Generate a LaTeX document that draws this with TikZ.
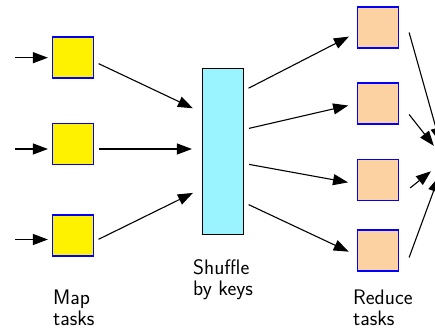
\documentclass[tikz,border=0pt]{standalone}
\usetikzlibrary{arrows.meta,positioning}
\definecolor{shufcyan}{RGB}{153,244,255}
\definecolor{redpeach}{RGB}{252,210,162}

\begin{document}
\begin{tikzpicture}[x=1pt,y=-1pt,
  >={Triangle[length=15pt,width=11pt]},
  task/.style={draw=blue,line width=1.2pt,minimum size=41pt,inner sep=0pt},
  maptask/.style={task,fill=yellow},
  redtask/.style={task,fill=redpeach},
  shufbox/.style={draw,line width=1.2pt,fill=shufcyan,minimum width=41pt,minimum height=166pt,inner sep=0pt},
  lbl/.style={anchor=north west,inner sep=0pt,align=left,font=\sffamily\fontsize{21}{21}\selectfont},
  flow/.style={->,line width=1.1pt}]
  \clip (0,0) rectangle (435,331);
  % map tasks and their inputs
  \node[maptask] (m1) at (73,57.5) {};
  \node[maptask] (m2) at (73,144) {};
  \node[maptask] (m3) at (73,235.5) {};
  \coordinate (in1) at (15,57.7);
  \coordinate (in2) at (15,149);
  \coordinate (in3) at (15,239.5);
  \foreach \i in {1,2,3}
    \draw[flow,shorten >=4pt] (in\i) -- (in\i -| m\i.west);
  % shuffle stage
  \node[shufbox] (shuf) at (223,151.5) {};
  \draw[flow,shorten <=5pt,shorten >=10pt] ([yshift=-4pt]m1.east) -- ([yshift=39pt]shuf.west);
  \draw[flow,shorten <=5pt,shorten >=10pt] (in2 -| m2.east) -- (in2 -| shuf.west);
  \draw[flow,shorten <=5pt,shorten >=10pt] ([yshift=-6pt]m3.east) -- ([yshift=-37pt]shuf.west);
  % reduce tasks
  \node[redtask] (r1) at (378,27.5) {};
  \node[redtask] (r2) at (378,103.5) {};
  \node[redtask] (r3) at (378,180) {};
  \node[redtask] (r4) at (378,250.5) {};
  \draw[flow,shorten <=5pt,shorten >=9pt] ([yshift=61pt]shuf.east) -- ([yshift=-5pt]r1.west);
  \draw[flow,shorten <=5pt,shorten >=9pt] ([yshift=22pt]shuf.east) -- (r2.west);
  \draw[flow,shorten <=5pt,shorten >=9pt] ([yshift=-12pt]shuf.east) -- ([yshift=-4pt]r3.west);
  \draw[flow,shorten <=5pt,shorten >=9pt] ([yshift=-51pt]shuf.east) -- ([yshift=-5pt]r4.west);
  % everything flows on to the output
  \coordinate (sink) at (445,160);
  \draw[flow,shorten >=18pt] ([shift={(10pt,-5pt)}]r1.east) -- (sink);
  \draw[flow,shorten >=18pt] ([shift={(10pt,-11pt)}]r2.east) -- (sink);
  \draw[flow,shorten >=18pt] ([shift={(11pt,-8pt)}]r3.east) -- (sink);
  \draw[flow,shorten >=18pt] ([shift={(10pt,-7pt)}]r4.east) -- (sink);
  % stage labels
  \node[lbl] (maplbl) at (53,290) {Map\\tasks};
  \node[lbl] (shuflbl) at (193,259) {Shuffle\\by keys};
  \node[lbl] (redlbl) at (353,290) {Reduce\\tasks};
\end{tikzpicture}
\end{document}
